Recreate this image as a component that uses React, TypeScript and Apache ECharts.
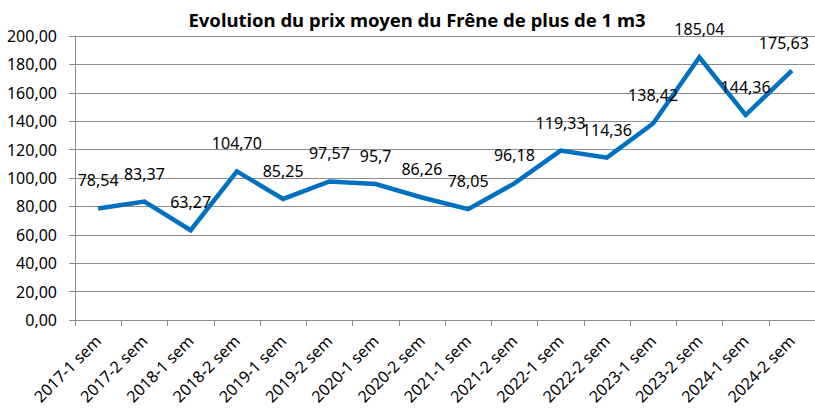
import React, { useEffect, useRef } from "react";
import * as echarts from "echarts";

const TITLE = "Evolution du prix moyen du Frêne de plus de 1 m3";
const categories = [
  "2017-1 sem", "2017-2 sem", "2018-1 sem", "2018-2 sem", "2019-1 sem", "2019-2 sem",
  "2020-1 sem", "2020-2 sem", "2021-1 sem", "2021-2 sem", "2022-1 sem", "2022-2 sem",
  "2023-1 sem", "2023-2 sem", "2024-1 sem", "2024-2 sem",
];
const prices = [78.54, 83.37, 63.27, 104.7, 85.25, 97.57, 95.7, 86.26, 78.05, 96.18, 119.33, 114.36, 138.42, 185.04, 144.36, 175.63];
const priceLabels = ["78,54", "83,37", "63,27", "104,70", "85,25", "97,57", "95,7", "86,26", "78,05", "96,18", "119,33", "114,36", "138,42", "185,04", "144,36", "175,63"];
const yMin = 0;
const yMax = 200;
const yStep = 20;

const FONT = "'Noto Sans', 'Open Sans', sans-serif";

export default function App() {
  const ref = useRef<HTMLDivElement>(null);
  useEffect(() => {
    document.body.style.margin = "0";
    if (!ref.current) return;
    const chart = echarts.init(ref.current, undefined, { renderer: "svg" });
    const lastIndex = prices.length - 1;
    chart.setOption({
      animation: false,
      backgroundColor: "#ffffff",
      title: {
        text: TITLE,
        left: 412,
        top: 5,
        textAlign: "center",
        textStyle: { fontFamily: FONT, fontWeight: "bold", fontSize: 18.5, color: "#000" },
      },
      grid: { left: 75, right: -5, top: 36, bottom: 88, containLabel: false },
      xAxis: {
        type: "category",
        data: categories,
        boundaryGap: true,
        axisLine: { lineStyle: { color: "#8c8c8c", width: 1 } },
        axisTick: { show: true, length: 6, lineStyle: { color: "#8c8c8c" }, alignWithLabel: false },
        axisLabel: {
          interval: 0,
          rotate: 45,
          margin: 18,
          fontFamily: FONT,
          fontSize: 16,
          color: "#000",
        },
      },
      yAxis: {
        type: "value",
        min: yMin,
        max: yMax,
        interval: yStep,
        axisLine: { show: true, lineStyle: { color: "#8c8c8c", width: 1 } },
        axisTick: { show: true, length: 6, lineStyle: { color: "#8c8c8c" } },
        splitLine: { show: true, lineStyle: { color: "#8c8c8c", width: 1 } },
        axisLabel: {
          margin: 18,
          fontFamily: FONT,
          fontSize: 16,
          color: "#000",
          formatter: (v: number) => v.toFixed(2).replace(".", ","),
        },
      },
      series: [
        {
          type: "line",
          data: prices,
          showSymbol: true,
          symbol: "circle",
          symbolSize: 0.1,
          lineStyle: { color: "#0070C0", width: 4.5, join: "miter" },
          itemStyle: { color: "#0070C0" },
          labelLayout: (p: any) =>
            p.dataIndex === lastIndex ? { hideOverlap: false, dx: -8 } : { hideOverlap: false },
          label: {
            show: true,
            position: "top",
            distance: 20,
            fontFamily: FONT,
            fontSize: 16,
            lineHeight: 16,
            color: "#000",
            formatter: (p: any) => priceLabels[p.dataIndex],
          },
        },
      ],
    });
    return () => chart.dispose();
  }, []);
  return <div ref={ref} style={{ width: 815, height: 408 }} />;
}
